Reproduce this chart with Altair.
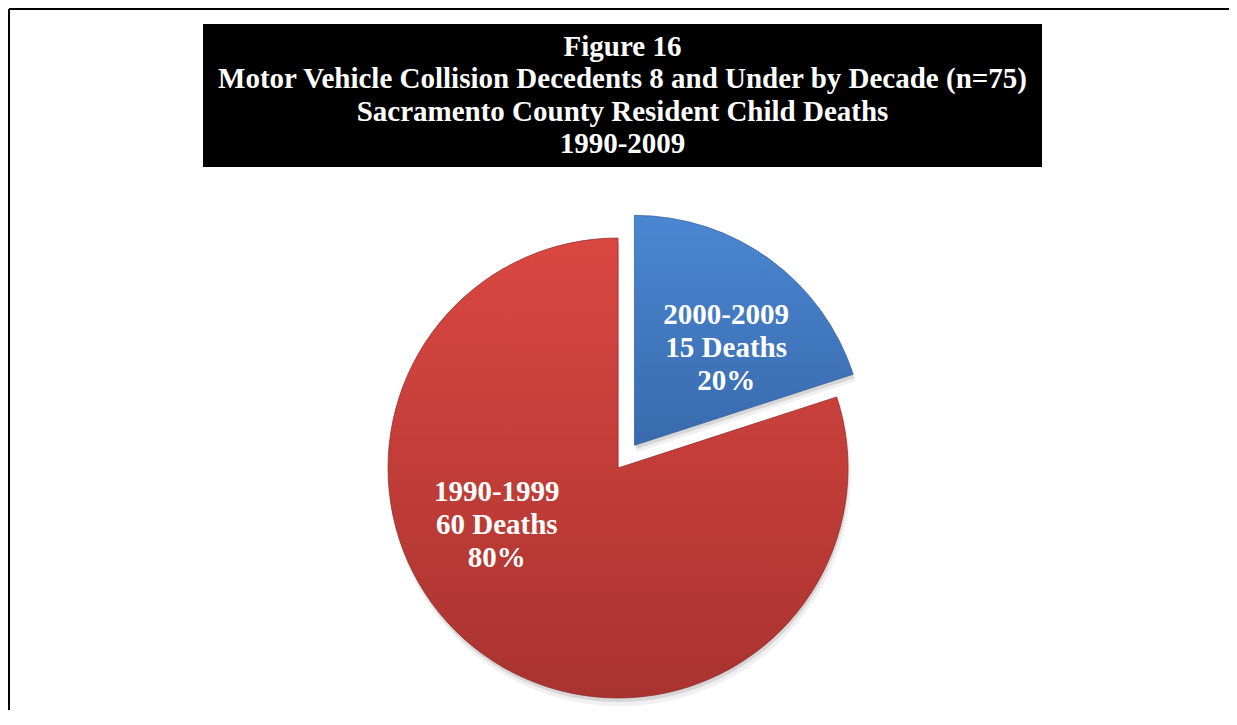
import math
import altair as alt
import pandas as pd

# ---- data ----
TITLE_LINES = [
    "Figure 16",
    "Motor Vehicle Collision Decedents 8 and Under by Decade (n=75)",
    "Sacramento County Resident Child Deaths",
    "1990-2009",
]
DECADES = ["2000-2009", "1990-1999"]
DEATHS = [15, 60]
EXPLODED = [1, 0]

TOTAL = sum(DEATHS)
df = pd.DataFrame({
    "decade": DECADES,
    "deaths": DEATHS,
    "exploded": EXPLODED,
    "order": list(range(len(DECADES))),
})
df["pct"] = (df["deaths"] / TOTAL * 100).round().astype(int)
df["label"] = (df["decade"] + "\n" + df["deaths"].astype(str) + " Deaths\n"
               + df["pct"].astype(str) + "%")

# ---- layout / style ----
CX, CY, R = 608, 458, 230
EXPLODE = 28
LABEL_R = 134
LABEL_FRAC = 0.6
FONT = "Liberation Serif"
LINE_H = 33

base = (
    alt.Chart(df)
    .transform_window(end="sum(deaths)", sort=[alt.SortField("order")], frame=[None, 0])
    .transform_calculate(start="datum.end - datum.deaths")
    .transform_calculate(mid=f"(datum.start + datum.end) / 2 / {TOTAL} * 2 * PI")
    .transform_calculate(cx=f"{CX} + datum.exploded * {EXPLODE} * sin(datum.mid)")
    .transform_calculate(cy=f"{CY} - datum.exploded * {EXPLODE} * cos(datum.mid)")
    .transform_calculate(la=f"(datum.start + {LABEL_FRAC} * (datum.end - datum.start)) / {TOTAL} * 2 * PI")
    .transform_calculate(lx=f"datum.cx + {LABEL_R} * sin(datum.la)")
    .transform_calculate(ly=f"datum.cy - {LABEL_R} * cos(datum.la)")
)

theta_scale = alt.Scale(domain=[0, TOTAL], range=[0, 2 * math.pi])
pie_enc = dict(
    theta=alt.Theta("start:Q", scale=theta_scale),
    theta2=alt.Theta2("end:Q"),
    x=alt.X("cx:Q", scale=None),
    y=alt.Y("cy:Q", scale=None),
)

def grad(top, bottom):
    return alt.Gradient(
        gradient="linear",
        stops=[alt.GradientStop(color=top, offset=0), alt.GradientStop(color=bottom, offset=1)],
        x1=0, x2=0, y1=0, y2=1,
    )

shadow1 = base.mark_arc(radius=R + 1, color="#000000", opacity=0.06, xOffset=2, yOffset=7).encode(**pie_enc)
shadow2 = base.mark_arc(radius=R, color="#000000", opacity=0.10, xOffset=1, yOffset=4).encode(**pie_enc)

blue = (
    base.transform_filter(alt.datum.decade == DECADES[0])
    .mark_arc(radius=R, color=grad("#4a87d2", "#396aad"), stroke="#2f5a94", strokeWidth=1, strokeOpacity=0.7)
    .encode(**pie_enc)
)
red = (
    base.transform_filter(alt.datum.decade == DECADES[1])
    .mark_arc(radius=R, color=grad("#da4741", "#a9332f"), stroke="#8a2826", strokeWidth=1, strokeOpacity=0.7)
    .encode(**pie_enc)
)

labels = base.mark_text(
    font=FONT, fontWeight="bold", fontSize=29, color="white",
    align="center", baseline="middle", lineBreak="\n", lineHeight=LINE_H, dy=-LINE_H,
).encode(
    x=alt.X("lx:Q", scale=None),
    y=alt.Y("ly:Q", scale=None),
    text="label:N",
)

one = alt.Chart(pd.DataFrame({"k": [0]}))
frame_top = one.mark_rule(color="black", strokeWidth=2).encode(
    x=alt.value(-1), x2=alt.value(1240), y=alt.value(-1))
frame_left = one.mark_rule(color="black", strokeWidth=2).encode(
    x=alt.value(-1), y=alt.value(-1), y2=alt.value(720))
title_box = one.mark_rect(color="black").encode(
    x=alt.value(193), x2=alt.value(1032), y=alt.value(14), y2=alt.value(157))
title_text = one.mark_text(
    font=FONT, fontWeight="bold", fontSize=29, color="white",
    align="center", baseline="alphabetic", lineHeight=32.3,
).encode(x=alt.value(612.5), y=alt.value(46), text=alt.value(TITLE_LINES))

chart = (
    alt.layer(frame_top, frame_left, title_box, title_text, shadow1, shadow2, red, blue, labels)
    .properties(
        width=1219, height=700,
        autosize=alt.AutoSizeParams(type="none"),
        padding={"left": 2, "top": 2, "right": 0, "bottom": 0},
        background="white",
    )
    .configure_view(stroke=None)
)

chart.save("out.html", embed_options={"renderer": "svg", "actions": False})
